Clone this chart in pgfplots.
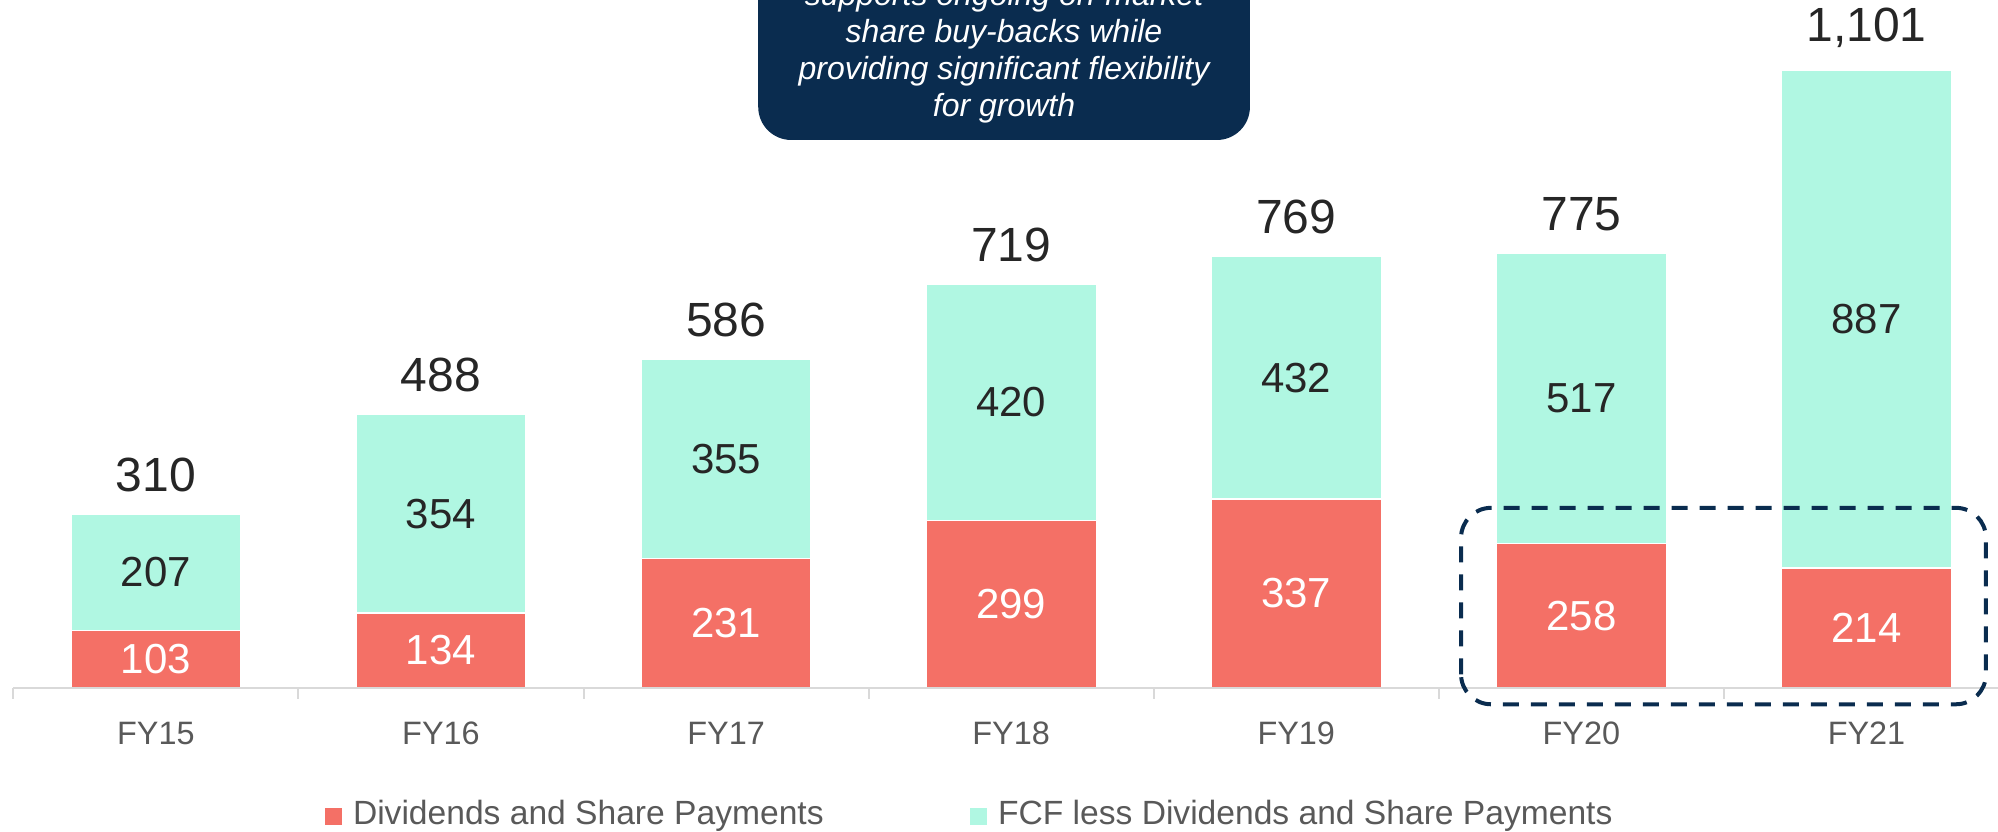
\documentclass[border=0pt]{standalone}
\usepackage{pgfplots}
\pgfplotsset{compat=1.18}
\usepackage{fontspec}
\setmainfont{Liberation Sans}
\definecolor{cred}{RGB}{244,112,102}
\definecolor{cmint}{RGB}{176,247,226}
\definecolor{navy}{RGB}{10,44,79}
\definecolor{dtext}{RGB}{38,38,38}
\definecolor{gtext}{RGB}{89,89,89}
\definecolor{gline}{RGB}{217,217,217}
\tikzset{
  tl/.style={anchor=base, inner sep=0, text=gtext, font=\fontsize{16.2}{16.2}\selectfont, yshift=-28pt},
  rl/.style={anchor=center, inner sep=0, text=white, font=\fontsize{21}{21}\selectfont},
  ml/.style={anchor=center, inner sep=0, text=dtext, font=\fontsize{21}{21}\selectfont},
  tt/.style={anchor=south, inner sep=0, yshift=11pt, text=dtext, font=\fontsize{24}{24}\selectfont},
  bx/.style={anchor=base, inner sep=0, text=white, font=\fontsize{16}{16}\selectfont\itshape},
  lg/.style={anchor=base west, inner sep=0, text=gtext, font=\fontsize{16.8}{16.8}\selectfont},
}
\pgfplotstableread{
x red mint total
0 103 207 310
1 134 354 488
2 231 355 586
3 299 420 719
4 337 432 769
5 258 517 775
6 214 887 1101
}\data
\begin{document}
\begin{tikzpicture}
\begin{axis}[
  width=999pt, height=416pt, scale only axis,
  xmin=-0.5467, xmax=6.4614, ymin=-256.5, ymax=1226.3,
  axis lines=none, ybar stacked, bar width=0.597,
  clip=false,
]
\addplot[fill=cred, draw=white, line width=0.75pt] table[x=x, y=red] {\data};
\addplot[fill=cmint, draw=white, line width=0.75pt] table[x=x, y=mint] {\data};
% anchor coordinates for labels
\coordinate (c0) at (axis cs:0,0);
\coordinate (c1) at (axis cs:1,0);
\coordinate (c2) at (axis cs:2,0);
\coordinate (c3) at (axis cs:3,0);
\coordinate (c4) at (axis cs:4,0);
\coordinate (c5) at (axis cs:5,0);
\coordinate (c6) at (axis cs:6,0);
\coordinate (t0) at (axis cs:-0.5,0);
\coordinate (t1) at (axis cs:0.5,0);
\coordinate (t2) at (axis cs:1.5,0);
\coordinate (t3) at (axis cs:2.5,0);
\coordinate (t4) at (axis cs:3.5,0);
\coordinate (t5) at (axis cs:4.5,0);
\coordinate (t6) at (axis cs:5.5,0);
\coordinate (axR) at (axis cs:6.4614,0);
\coordinate (r0) at (axis cs:0,51.5);
\coordinate (r1) at (axis cs:1,67);
\coordinate (r2) at (axis cs:2,115.5);
\coordinate (r3) at (axis cs:3,149.5);
\coordinate (r4) at (axis cs:4,168.5);
\coordinate (r5) at (axis cs:5,129);
\coordinate (r6) at (axis cs:6,107);
\coordinate (m0) at (axis cs:0,206.5);
\coordinate (m1) at (axis cs:1,311);
\coordinate (m2) at (axis cs:2,408.5);
\coordinate (m3) at (axis cs:3,509);
\coordinate (m4) at (axis cs:4,553);
\coordinate (m5) at (axis cs:5,516.5);
\coordinate (m6) at (axis cs:6,657.5);
\coordinate (s0) at (axis cs:0,310);
\coordinate (s1) at (axis cs:1,488);
\coordinate (s2) at (axis cs:2,586);
\coordinate (s3) at (axis cs:3,719);
\coordinate (s4) at (axis cs:4,769);
\coordinate (s5) at (axis cs:5,775);
\coordinate (s6) at (axis cs:6,1101);
\coordinate (dA) at (axis cs:4.578,-28.9);
\coordinate (dB) at (axis cs:6.419,321.2);
\coordinate (bA) at (axis cs:2.1128,976.8);
\coordinate (bB) at (axis cs:3.8375,1450);
\coordinate (b1) at (axis cs:2.975,1216.5);
\coordinate (b2) at (axis cs:2.975,1150.6);
\coordinate (b3) at (axis cs:2.975,1084.7);
\coordinate (b4) at (axis cs:2.975,1018.8);
\coordinate (L1) at (axis cs:0.5933,-242.3);
\coordinate (L2) at (axis cs:2.8558,-242.3);
\end{axis}
% baseline and ticks
\draw[gline, line width=1pt] (t0) -- (axR);
\foreach \k in {0,...,6} {
  \draw[gline, line width=1pt] (t\k) -- ++(0,-5.5pt);
}
% tick labels
\node[tl] at (c0) {FY15};
\node[tl] at (c1) {FY16};
\node[tl] at (c2) {FY17};
\node[tl] at (c3) {FY18};
\node[tl] at (c4) {FY19};
\node[tl] at (c5) {FY20};
\node[tl] at (c6) {FY21};
% red segment labels
\node[rl] at (r0) {103};
\node[rl] at (r1) {134};
\node[rl] at (r2) {231};
\node[rl] at (r3) {299};
\node[rl] at (r4) {337};
\node[rl] at (r5) {258};
\node[rl] at (r6) {214};
% mint segment labels
\node[ml] at (m0) {207};
\node[ml] at (m1) {354};
\node[ml] at (m2) {355};
\node[ml] at (m3) {420};
\node[ml] at (m4) {432};
\node[ml] at (m5) {517};
\node[ml] at (m6) {887};
% totals
\node[tt] at (s0) {310};
\node[tt] at (s1) {488};
\node[tt] at (s2) {586};
\node[tt] at (s3) {719};
\node[tt] at (s4) {769};
\node[tt] at (s5) {775};
\node[tt] at (s6) {1,101};
% dashed highlight
\draw[navy, line width=2pt, dash pattern=on 8pt off 6pt, rounded corners=15pt] (dA) rectangle (dB);
% callout box
\fill[navy, rounded corners=16.5pt] (bA) rectangle (bB);
\node[bx] at (b1) {supports ongoing on-market};
\node[bx] at (b2) {share buy-backs while};
\node[bx] at (b3) {providing significant flexibility};
\node[bx] at (b4) {for growth};
% legend
\node[lg] at (L1) {\textcolor{cred}{\rule[-0.5pt]{8.3pt}{8.3pt}}\hspace{5.5pt}Dividends and Share Payments};
\node[lg] at (L2) {\textcolor{cmint}{\rule[-0.5pt]{8.3pt}{8.3pt}}\hspace{5.5pt}FCF less Dividends and Share Payments};
\pgfresetboundingbox
\useasboundingbox (current axis.south west) rectangle (current axis.north east);
\end{tikzpicture}
\end{document}
